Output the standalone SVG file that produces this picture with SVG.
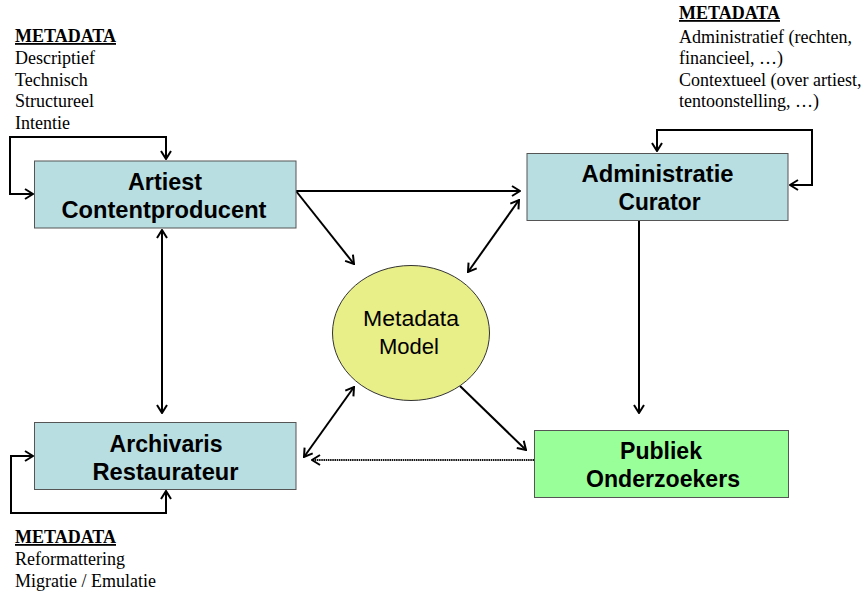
<svg xmlns="http://www.w3.org/2000/svg" width="866" height="592" viewBox="0 0 866 592">
<style>
.box{fill:#B8DEE2;stroke:#555;stroke-width:1}
.green{fill:#99FF99;stroke:#555;stroke-width:1}
.ell{fill:#E8EE88;stroke:#333;stroke-width:1}
.bt{font-family:"Liberation Sans",Arial,sans-serif;font-weight:bold;font-size:23px;fill:#000;text-anchor:middle}
.et{font-family:"Liberation Sans",Arial,sans-serif;font-size:22px;fill:#000;text-anchor:middle}
.st{font-family:"Liberation Serif","Times New Roman",serif;font-size:18px;fill:#000}
.sh{font-weight:bold;text-decoration:underline}
.c{fill:none;stroke:#000;stroke-width:2}
.d{fill:none;stroke:#111;stroke-width:1.8;stroke-dasharray:1.5 0.7}
</style>
<defs>
<marker id="a" viewBox="0 0 10 12" refX="9" refY="6" markerWidth="10" markerHeight="12" markerUnits="userSpaceOnUse" orient="auto-start-reverse">
<path d="M1,1 L9,6 L1,11" fill="none" stroke="#000" stroke-width="2"/>
</marker>
</defs>
<g id="connectors">
<path class="c" d="M33,194 H10 V137 H166 V159" marker-start="url(#a)" marker-end="url(#a)"/>
<path class="c" d="M657,151 V130 H812 V185 H790" marker-start="url(#a)" marker-end="url(#a)"/>
<path class="c" d="M33,456 H11 V513 H166 V491" marker-start="url(#a)" marker-end="url(#a)"/>
<path class="c" d="M162,230 V413" marker-start="url(#a)" marker-end="url(#a)"/>
<path class="c" d="M639,221 V413" marker-end="url(#a)"/>
<path class="c" d="M296,191 H520" marker-end="url(#a)"/>
<path class="c" d="M296,191 L354,264" marker-end="url(#a)"/>
<path class="c" d="M519,200 L468,272" marker-start="url(#a)" marker-end="url(#a)"/>
<path class="c" d="M354,387 L304,457" marker-start="url(#a)" marker-end="url(#a)"/>
<path class="c" d="M460,386 L526,450" marker-end="url(#a)"/>
<path class="d" d="M534,460 H312" marker-end="url(#a)"/>
</g>
<g id="artiest">
<rect class="box" x="34.5" y="161" width="261.5" height="67"/>
<text class="bt" x="165" y="190" textLength="74" lengthAdjust="spacingAndGlyphs">Artiest</text>
<text class="bt" x="164" y="218" textLength="205" lengthAdjust="spacingAndGlyphs">Contentproducent</text>
</g>
<g id="administratie">
<rect class="box" x="527" y="153.5" width="261" height="67"/>
<text class="bt" x="657.5" y="182" textLength="152" lengthAdjust="spacingAndGlyphs">Administratie</text>
<text class="bt" x="659.5" y="210" textLength="82" lengthAdjust="spacingAndGlyphs">Curator</text>
</g>
<g id="archivaris">
<rect class="box" x="34.5" y="422.5" width="261.5" height="67"/>
<text class="bt" x="166" y="452" textLength="113" lengthAdjust="spacingAndGlyphs">Archivaris</text>
<text class="bt" x="165.5" y="480" textLength="146" lengthAdjust="spacingAndGlyphs">Restaurateur</text>
</g>
<g id="publiek">
<rect class="green" x="534.5" y="430.5" width="254" height="67"/>
<text class="bt" x="661" y="459" textLength="82" lengthAdjust="spacingAndGlyphs">Publiek</text>
<text class="bt" x="663" y="487" textLength="154" lengthAdjust="spacingAndGlyphs">Onderzoekers</text>
</g>
<g id="metadata-model">
<ellipse class="ell" cx="411" cy="333" rx="78.5" ry="67.5"/>
<text class="et" x="411" y="326" textLength="96" lengthAdjust="spacingAndGlyphs">Metadata</text>
<text class="et" x="409" y="354">Model</text>
</g>
<g id="meta-artiest">
<text class="st sh" x="15" y="42">METADATA</text>
<text class="st" x="15" y="64">Descriptief</text>
<text class="st" x="15" y="86">Technisch</text>
<text class="st" x="15" y="107">Structureel</text>
<text class="st" x="15" y="129">Intentie</text>
</g>
<g id="meta-administratie">
<text class="st sh" x="679" y="19">METADATA</text>
<text class="st" x="679" y="43">Administratief (rechten,</text>
<text class="st" x="679" y="64">financieel, …)</text>
<text class="st" x="679" y="86">Contextueel (over artiest,</text>
<text class="st" x="679" y="107">tentoonstelling, …)</text>
</g>
<g id="meta-archivaris">
<text class="st sh" x="15" y="543">METADATA</text>
<text class="st" x="15" y="565">Reformattering</text>
<text class="st" x="15" y="587">Migratie / Emulatie</text>
</g>
</svg>
